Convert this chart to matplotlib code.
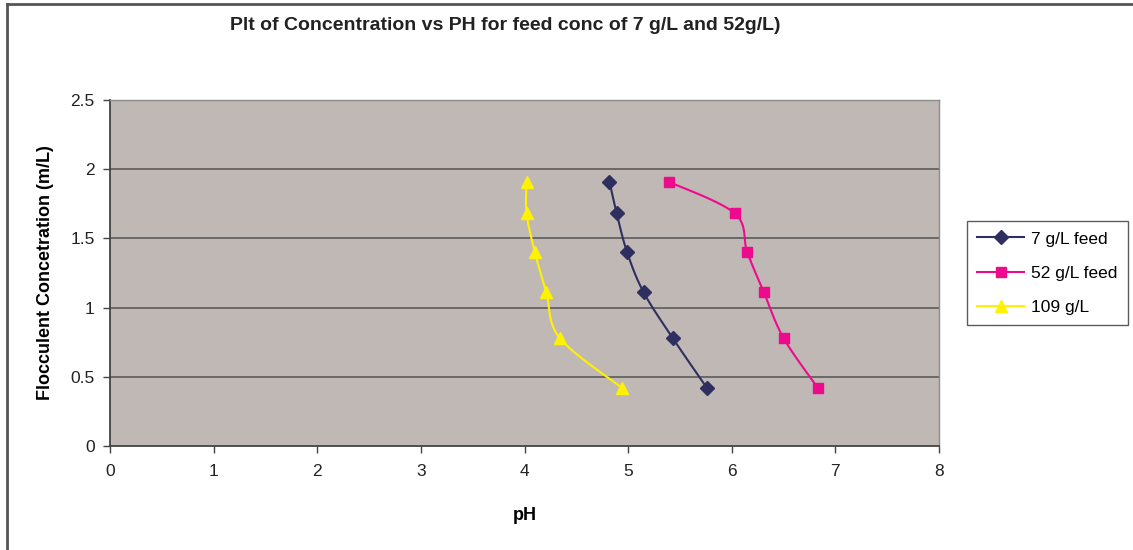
import numpy as np
import matplotlib
matplotlib.use("Agg")
import matplotlib.pyplot as plt
from matplotlib.lines import Line2D

plt.rcParams['font.family'] = ['Liberation Sans', 'DejaVu Sans']

# Flocculent concentration levels (m/L)
conc = [1.91, 1.68, 1.40, 1.11, 0.78, 0.42]

# pH readings for each feed concentration
ph_7 = [4.82, 4.89, 4.99, 5.15, 5.43, 5.76]
ph_52 = [5.39, 6.03, 6.15, 6.31, 6.50, 6.83]
ph_109 = [4.02, 4.02, 4.10, 4.21, 4.34, 4.94]

series = [
    ("7 g/L feed", ph_7, "#2E2F5E", "D", 7),
    ("52 g/L feed", ph_52, "#EE0A8C", "s", 7),
    ("109 g/L", ph_109, "#FFF200", "^", 9),
]


def smooth(xs, ys, n=20):
    """Catmull-Rom curve through the points, like a smoothed line chart."""
    p = np.column_stack([xs, ys]).astype(float)
    pts = np.vstack([p[0], p, p[-1]])
    out = []
    t = np.linspace(0, 1, n)[:, None]
    for i in range(1, len(pts) - 2):
        p0, p1, p2, p3 = pts[i - 1], pts[i], pts[i + 1], pts[i + 2]
        seg = 0.5 * ((2 * p1) + (-p0 + p2) * t
                     + (2 * p0 - 5 * p1 + 4 * p2 - p3) * t ** 2
                     + (-p0 + 3 * p1 - 3 * p2 + p3) * t ** 3)
        out.append(seg if i == 1 else seg[1:])
    c = np.vstack(out)
    return c[:, 0], c[:, 1]


fig = plt.figure(figsize=(11.33, 5.5), dpi=100)
ax = fig.add_axes([110 / 1133, 1 - 446 / 550, 829 / 1133, 346 / 550])
ax.set_facecolor("#C0B8B5")

for y in [0.5, 1.0, 1.5, 2.0, 2.5]:
    ax.axhline(y, color="#5A5A5A", lw=1.2, zorder=1)

handles = []
for label, xs, color, marker, ms in series:
    sx, sy = smooth(xs, conc)
    ax.plot(sx, sy, color=color, lw=1.5, zorder=3)
    ax.plot(xs, conc, linestyle="none", marker=marker, ms=ms,
            color=color, markeredgecolor=color, zorder=4)
    handles.append(Line2D([], [], color=color, lw=1.5, marker=marker,
                          ms=ms, markeredgecolor=color, label=label))

ax.set_xlim(0, 8)
ax.set_ylim(0, 2.5)
ax.set_xticks(range(0, 9))
ax.set_yticks([0, 0.5, 1, 1.5, 2, 2.5])
ax.set_yticklabels(["0", "0.5", "1", "1.5", "2", "2.5"])
ax.tick_params(axis="both", direction="out", length=5, width=1,
               color="#444444", labelsize=12.5, labelcolor="#222222")
ax.tick_params(axis="x", pad=8)
ax.tick_params(axis="y", pad=6)

for side in ["left", "bottom"]:
    ax.spines[side].set_color("#444444")
    ax.spines[side].set_linewidth(1.3)
for side in ["top", "right"]:
    ax.spines[side].set_color("#8C8C8C")
    ax.spines[side].set_linewidth(1.0)

ax.set_xlabel("pH", fontsize=13, fontweight="bold", labelpad=20)
ax.set_ylabel("Flocculent Concetration (m/L)", fontsize=13,
              fontweight="bold", labelpad=12)

fig.text(505 / 1133, 1 - 25 / 550,
         "Plt of Concentration vs PH for feed conc of 7 g/L and 52g/L)",
         ha="center", va="center", fontsize=14, fontweight="bold",
         color="#222222")

leg = fig.legend(handles=handles, loc="upper left",
                 bbox_to_anchor=(967 / 1133, 1 - 221 / 550),
                 frameon=True, fancybox=False, fontsize=12.5,
                 handlelength=2.7, handletextpad=0.4, borderpad=0.6,
                 borderaxespad=0, labelspacing=1.1)
leg.get_frame().set_edgecolor("#333333")
leg.get_frame().set_linewidth(1.0)

# outer chart frame (top and left edges)
fig.add_artist(Line2D([7 / 1133, 7 / 1133], [0, 1 - 4 / 550],
                      transform=fig.transFigure, color="#555555", lw=2))
fig.add_artist(Line2D([7 / 1133, 1], [1 - 4 / 550, 1 - 4 / 550],
                      transform=fig.transFigure, color="#555555", lw=2))

fig.savefig("out.png", dpi=100)
